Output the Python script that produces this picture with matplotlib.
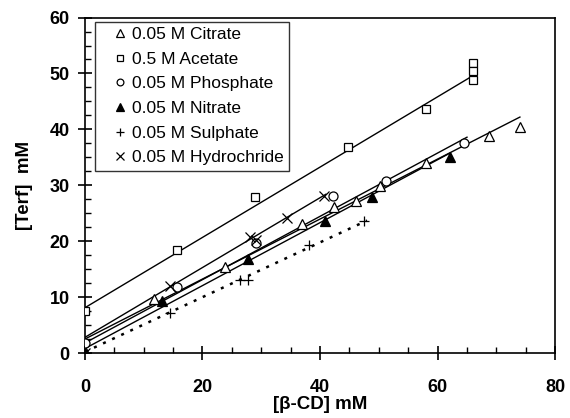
import matplotlib.pyplot as plt
from matplotlib.lines import Line2D
from matplotlib.ticker import MultipleLocator

plt.rcParams['font.family'] = ['Liberation Sans', 'DejaVu Sans']

# data: [beta-CD] (mM) vs [Terf] (mM)
cit_x = [0, 11.8, 23.8, 37.0, 42.3, 46.2, 50.2, 58.1, 68.8, 74.0]
cit_y = [0.3, 9.7, 15.3, 23.0, 26.1, 27.1, 29.9, 33.9, 38.9, 40.5]
ace_x = [0, 15.7, 28.9, 44.8, 58.0, 66.0, 66.0, 66.0]
ace_y = [7.5, 18.4, 27.9, 36.8, 43.7, 51.8, 50.4, 48.8]
pho_x = [0, 15.6, 29.1, 42.2, 51.3, 64.5]
pho_y = [1.7, 11.8, 19.7, 28.0, 30.8, 37.5]
nit_x = [0, 13.1, 27.8, 40.8, 48.9, 62.1]
nit_y = [0, 9.3, 16.8, 23.7, 27.9, 35.1]
sul_x = [0, 14.5, 26.4, 27.8, 38.2, 47.5]
sul_y = [0, 7.1, 13.1, 13.1, 19.4, 23.7]
hyd_x = [0, 14.5, 28.0, 29.1, 34.3, 40.7]
hyd_y = [0, 11.9, 20.7, 20.3, 24.1, 28.1]

# trend lines: intercept, end x, end y
fit_b = [2.5, 8.1, 1.8, 0.8, 0.2, 2.8]
fit_xend = [74.0, 66.0, 65.0, 62.0, 48.0, 41.0]
fit_yend = [42.2, 49.6, 38.6, 35.7, 23.7, 28.4]

labels = ['0.05 M Citrate', '0.5 M Acetate', '0.05 M Phosphate',
          '0.05 M Nitrate', '0.05 M Sulphate', '0.05 M Hydrochride']
xs = [cit_x, ace_x, pho_x, nit_x, sul_x, hyd_x]
ys = [cit_y, ace_y, pho_y, nit_y, sul_y, hyd_y]
markers = ['^', 's', 'o', '^', '+', 'x']
faces = ['white', 'white', 'white', 'black', 'black', 'black']
sizes = [7, 6, 6.5, 7, 7, 7.5]

fig = plt.figure(figsize=(5.7, 4.18), dpi=100)
ax = fig.add_axes([0.149, 0.1555, 0.825, 0.8025])

handles = []
for i in range(6):
    if i == 4:
        ax.plot([0, fit_xend[i]], [fit_b[i], fit_yend[i]], color='black',
                lw=1.8, dashes=(1.2, 2.8), zorder=2)
    else:
        ax.plot([0, fit_xend[i]], [fit_b[i], fit_yend[i]], color='black',
                lw=1.0, zorder=2)
    ax.plot(xs[i], ys[i], linestyle='none', marker=markers[i], ms=sizes[i],
            mfc=faces[i], mec='black', mew=0.9, zorder=3)
    handles.append(Line2D([], [], linestyle='none', marker=markers[i],
                          ms=sizes[i] * 0.75, mfc=faces[i], mec='black', mew=0.9))

ax.set_xlim(0, 80)
ax.set_ylim(0, 60)
ax.xaxis.set_major_locator(MultipleLocator(20))
ax.xaxis.set_minor_locator(MultipleLocator(5))
ax.yaxis.set_major_locator(MultipleLocator(10))
ax.yaxis.set_minor_locator(MultipleLocator(2.5))
ax.tick_params(which='major', direction='inout', length=10, width=1.2,
               labelsize=13)
ax.tick_params(axis='x', which='major', pad=14)
ax.tick_params(axis='y', which='major', pad=6)
ax.tick_params(which='minor', direction='in', length=4, width=1.0)
for t in ax.get_xticklabels() + ax.get_yticklabels():
    t.set_fontweight('bold')
for s in ax.spines.values():
    s.set_linewidth(1.2)

ax.set_xlabel('[β-CD] mM', fontsize=13.5, fontweight='bold', labelpad=0)
ax.set_ylabel('[Terf]  mM', fontsize=13.5, fontweight='bold', labelpad=12)

leg = ax.legend(handles, labels, loc='upper left', bbox_to_anchor=(0.022, 0.988),
                fontsize=12.5, frameon=True, fancybox=False, edgecolor='black',
                handlelength=2.3, handletextpad=-0.5, labelspacing=0.55,
                borderpad=0.3, borderaxespad=0)
leg.get_frame().set_linewidth(1.0)

fig.savefig('out.png', dpi=100)
